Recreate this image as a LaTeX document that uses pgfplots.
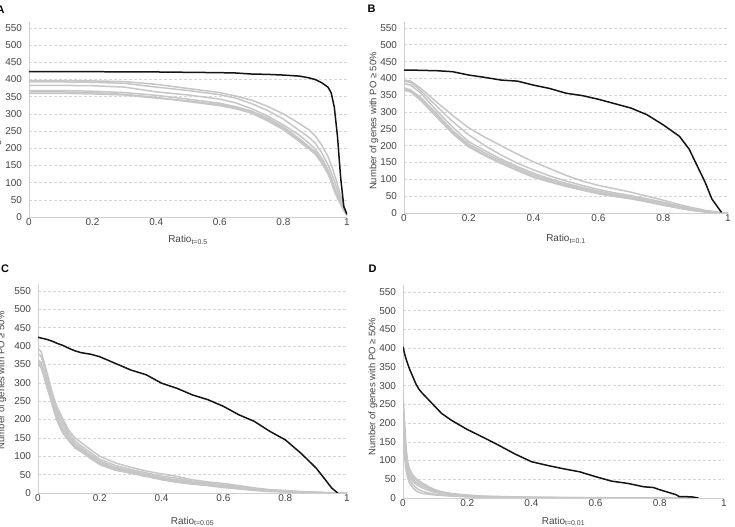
\documentclass[border=0pt]{standalone}
\usepackage{fontspec}
\setmainfont{Liberation Sans}
\usepackage{pgfplots}
\usepackage{pgfplotstable}
\pgfplotsset{compat=1.18}

\definecolor{axisgray}{HTML}{D0D0D0}
\definecolor{gridgray}{HTML}{D6D6D6}
\definecolor{ticktext}{HTML}{444444}
\definecolor{simgray}{HTML}{C6C6C6}
\definecolor{obsblack}{HTML}{141414}

% Panel A: threshold t = 0.5
\pgfplotstableread{
x     k    g1   g2   g3   g4   g5   g6
0     423  397  393  383  368  364  360
0.1   423  397  393  383  368  364  360
0.2   423  396  392  382  366  362  358
0.3   422  394  389  378  362  357  355
0.4   422  386  378  364  354  348  346
0.5   421  374  368  355  343  336  338
0.6   420  362  356  343  331  324  327
0.65  419  352  346  332  321  315  318
0.7   416  340  330  315  308  302  305
0.75  415  322  310  294  288  280  284
0.8   413  300  285  268  262  254  258
0.85  410  272  252  238  228  220  224
0.88  405  254  232  215  205  198  200
0.9   400  236  215  198  190  183  186
0.92  391  210  188  172  165  158  160
0.94  378  176  152  138  132  126  128
0.95  362  152  130  115  110  104  106
0.96  320  125  105  88   82   76   79
0.97  235  95   78   65   60   56   58
0.98  115  62   50   42   40   37   38
0.99  30   32   26   22   20   19   20
1.0   8    8    6    5    5    4    4
}\tabA

% Panel B: threshold t = 0.1
\pgfplotstableread{
x     k    g1   g2   g3   g4   g5   g6
0     425  395  392  385  372  368  365
0.02  425  392  388  380  366  362  360
0.05  424  372  365  358  345  340  336
0.1   423  330  318  305  296  290  286
0.15  420  290  272  255  245  240  236
0.2   410  253  232  212  205  200  196
0.25  403  225  200  185  178  172  170
0.3   395  200  172  160  155  150  147
0.35  392  175  148  138  133  128  126
0.4   380  152  128  118  113  108  106
0.45  370  132  110  102  98   94   92
0.5   356  112  95   88   84   80   79
0.55  349  95   82   76   72   69   68
0.6   338  82   70   65   61   58   57
0.65  325  72   60   56   53   50   49
0.7   312  62   52   48   46   44   42
0.75  292  50   42   38   36   34   33
0.8   262  38   32   28   26   24   23
0.85  228  25   21   19   17   15   14
0.88  190  18   15   13   12   10   9
0.9   150  14   11   9    8    7    6
0.93  90   8    6    5    4    3    3
0.95  42   5    3    3    2    2    1
0.97  15   2    1    1    1    1    1
0.98  2    1    1    0    0    0    0
1.0   nan  0    0    0    0    0    0
}\tabB

% Panel C: threshold t = 0.05
\pgfplotstableread{
x     k    g1   g2   g3   g4   g5   g6
0     424  394  380  362  356  352  350
0.01  422  385  372  355  350  345  342
0.02  420  355  345  330  322  318  315
0.03  418  325  312  300  292  288  285
0.04  415  292  282  275  268  262  258
0.05  412  262  252  245  238  232  228
0.06  408  238  228  220  212  205  200
0.08  402  202  195  185  175  170  163
0.1   394  170  162  155  150  145  142
0.12  387  150  142  135  130  126  122
0.14  382  137  128  122  118  115  112
0.17  378  118  110  104  100  96   94
0.2   371  100  92   87   83   80   77
0.25  353  82   75   70   67   64   62
0.3   335  70   64   60   57   55   54
0.35  322  60   55   51   48   46   45
0.4   299  52   46   42   40   38   36
0.45  285  45   40   36   34   31   29
0.5   267  36   32   30   28   26   24
0.55  254  30   27   25   23   21   20
0.6   236  26   22   20   18   16   15
0.65  213  20   17   15   13   12   11
0.7   195  14   12   10   9    8    7
0.75  168  9    8    7    6    5    4
0.8   145  7    6    5    4    3    3
0.85  109  4    3    3    2    2    1
0.9   68   2    2    1    1    1    1
0.93  36   1    1    1    0    0    0
0.95  14   0    0    0    0    0    0
0.97  0    0    0    0    0    0    0
1.0   nan  0    0    0    0    0    0
}\tabC

% Panel D: threshold t = 0.01
\pgfplotstableread{
x      k    g1   g2   g3   g4   g5   g6
0      404  275  260  240  220  200  180
0.005  385  200  180  160  140  125  110
0.01   370  130  115  100  90   80   72
0.015  357  95   85   75   68   60   52
0.02   345  78   70   62   56   48   40
0.03   325  62   56   50   44   36   28
0.04   305  52   48   42   37   28   20
0.05   290  46   42   37   32   22   15
0.06   280  40   37   32   27   18   12
0.08   262  30   27   24   20   13   10
0.1    244  22   20   17   15   10   8
0.12   226  17   15   13   11   8    7
0.15   208  12   10   9    8    6    5
0.2    183  8    7    6    5    4    3
0.25   162  5    4    4    3    3    2
0.3    140  4    3    3    2    2    2
0.35   117  3    2    2    2    1    1
0.4    97   2    2    1    1    1    1
0.45   87   2    1    1    1    1    0
0.5    78   1    1    1    0    0    0
0.55   70   1    1    0    0    0    0
0.6    57   1    0    0    0    0    0
0.65   45   0    0    0    0    0    0
0.7    39   0    0    0    0    0    0
0.75   30   0    0    0    0    0    0
0.78   28   0    0    0    0    0    0
0.8    22   0    0    0    0    0    0
0.85   9    0    0    0    0    0    0
0.86   4    0    0    0    0    0    0
0.9    3    0    0    0    0    0    0
0.92   0    0    0    0    0    0    0
}\tabD

\pgfplotsset{
  panel/.style={
    scale only axis,
    xmin=0, xmax=1, ymin=0, ymax=568,
    axis lines=left,
    axis line style={draw=axisgray, line width=0.9bp, -},
    xtick={0,0.2,0.4,0.6,0.8,1},
    xticklabels={0,0.2,0.4,0.6,0.8,1},
    ytick={0,50,...,550},
    major tick length=0pt,
    ymajorgrids,
    major grid style={draw=gridgray, line width=0.6bp, dash pattern=on 2.5bp off 2.5bp},
    /pgf/number format/assume math mode=true,
    tick label style={font=\fontsize{10}{12}\selectfont, text=ticktext},
    xticklabel style={yshift=1.5bp},
    yticklabel style={xshift=-3.5bp},
    xlabel style={font=\fontsize{10}{12}\selectfont, text=ticktext,
                  at={(axis description cs:0.5,0)}, anchor=base},
    ylabel style={font=\fontsize{9.5}{11}\selectfont, text=ticktext, anchor=center},
    ylabel={Number of genes with PO ≥ 50\%},
  },
  sim/.style={draw=simgray, line width=1.5bp, no marks},
  obs/.style={draw=obsblack, line width=1.5bp, no marks},
}

\newcommand{\curves}[1]{%
  \addplot[sim] table[x=x, y=g1] {#1};
  \addplot[sim] table[x=x, y=g2] {#1};
  \addplot[sim] table[x=x, y=g3] {#1};
  \addplot[sim] table[x=x, y=g4] {#1};
  \addplot[sim] table[x=x, y=g5] {#1};
  \addplot[sim] table[x=x, y=g6] {#1};
  \addplot[obs] table[x=x, y=k] {#1};
}

\begin{document}
\begin{tikzpicture}
\useasboundingbox (0,0) rectangle (735bp,527bp);

% A (the y label is rotated, so its yshift moves it to the left)
\begin{axis}[panel, at={(29bp,310bp)}, anchor=south west,
  width=318bp, height=195.2bp,
  xlabel={Ratio\textsubscript{t=0.5}}, xlabel style={yshift=-25.7bp},
  ylabel style={at={(axis description cs:0,0.48)}, yshift=32bp}]
\curves{\tabA}
\end{axis}

% B
\begin{axis}[panel, at={(404bp,314bp)}, anchor=south west,
  width=324bp, height=191.1bp,
  xlabel={Ratio\textsubscript{t=0.1}}, xlabel style={yshift=-28.7bp},
  ylabel style={at={(axis description cs:0,0.481)}, yshift=30bp}]
\curves{\tabB}
\end{axis}

% C
\begin{axis}[panel, at={(38bp,34bp)}, anchor=south west,
  width=309bp, height=208.6bp,
  xlabel={Ratio\textsubscript{t=0.05}}, xlabel style={yshift=-31bp},
  ylabel style={at={(axis description cs:0,0.54)}, yshift=36bp}]
\curves{\tabC}
\end{axis}

% D
\begin{axis}[panel, at={(403bp,29bp)}, anchor=south west,
  width=321bp, height=212.7bp,
  xlabel={Ratio\textsubscript{t=0.01}}, xlabel style={yshift=-26.5bp},
  ylabel style={at={(axis description cs:0,0.523)}, yshift=30bp}]
\curves{\tabD}
\end{axis}

% panel letters
\begin{scope}[every node/.style={font=\fontsize{11}{13}\selectfont\bfseries, inner sep=0pt}]
  \node at (0.5bp,517bp) {A};
  \node at (371.5bp,518bp) {B};
  \node at (5bp,258bp) {C};
  \node at (372.5bp,258bp) {D};
\end{scope}
\end{tikzpicture}
\end{document}
